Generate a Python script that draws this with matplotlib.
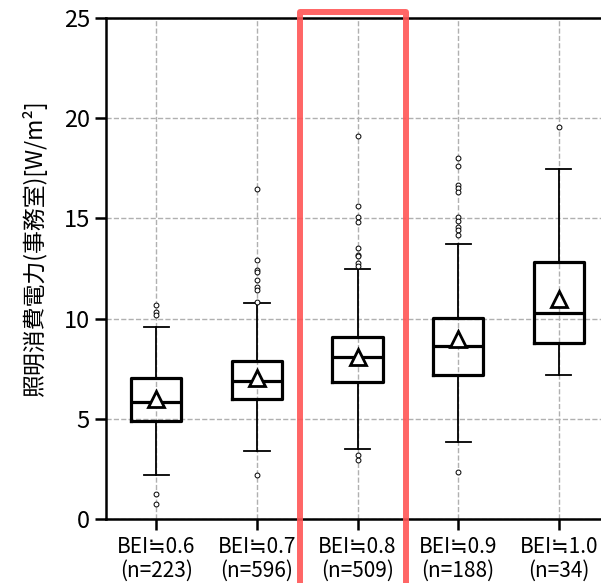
import numpy as np
import matplotlib
matplotlib.use("Agg")
import matplotlib.pyplot as plt
from matplotlib.patches import Rectangle

plt.rcParams['font.family'] = ['Noto Sans CJK JP', 'DejaVu Sans']

labels = ["BEI≒0.6\n(n=223)", "BEI≒0.7\n(n=596)", "BEI≒0.8\n(n=509)",
          "BEI≒0.9\n(n=188)", "BEI≒1.0\n(n=34)"]
med = [5.85, 6.9, 8.07, 8.65, 10.3]
q1 = [4.91, 6.0, 6.82, 7.19, 8.77]
q3 = [7.02, 7.9, 9.1, 10.01, 12.84]
whislo = [2.2, 3.39, 3.49, 3.86, 7.19]
whishi = [9.6, 10.8, 12.47, 13.72, 17.45]
means = [6.0, 7.03, 8.1, 9.0, 11.0]
fliers = [
    [10.7, 10.35, 10.2, 1.23, 0.73],
    [16.47, 12.9, 12.42, 12.32, 11.93, 11.56, 11.43, 10.85, 2.2],
    [19.11, 15.63, 15.05, 14.8, 13.5, 13.17, 13.1, 12.76, 12.64, 3.19, 2.94],
    [18.0, 17.63, 16.67, 16.5, 16.33, 15.08, 14.89, 14.59, 14.42, 14.17, 2.35],
    [19.58],
]

stats = []
for i in range(len(labels)):
    stats.append(dict(med=med[i], q1=q1[i], q3=q3[i], whislo=whislo[i],
                      whishi=whishi[i], mean=means[i], fliers=fliers[i],
                      label=labels[i]))

fig = plt.figure(figsize=(6.01, 5.83), dpi=100)
ax = fig.add_axes([0.1764, 0.1098, 0.837, 0.8593])

ax.bxp(stats, widths=0.5, showmeans=True,
       boxprops=dict(color='black', linewidth=2.3),
       medianprops=dict(color='black', linewidth=2.3),
       whiskerprops=dict(color='black', linewidth=1.3),
       capprops=dict(color='black', linewidth=1.3),
       meanprops=dict(marker='^', markerfacecolor='white', markeredgecolor='black',
                      markersize=11, markeredgewidth=2),
       flierprops=dict(marker='o', markerfacecolor='white', markeredgecolor='black',
                       markersize=3.5, markeredgewidth=0.7))

ax.set_xlim(0.5, 5.5)
ax.set_ylim(0, 25)
ax.set_yticks([0, 5, 10, 15, 20, 25])
ax.grid(True, linestyle='--', color='#b0b0b0', linewidth=1)
ax.set_axisbelow(True)
for s in ax.spines.values():
    s.set_linewidth(1.8)
ax.spines['right'].set_visible(False)
ax.tick_params(axis='y', labelsize=17, length=8, width=1.8)
ax.tick_params(axis='x', labelsize=15, length=8, width=1.8, pad=4)
for t in ax.get_xticklabels():
    t.set_linespacing(1.15)
ax.set_ylabel("照明消費電力(事務室)[W/m²]", fontsize=16.5)
ax.yaxis.set_label_coords(-0.117, 0.54)

rect = Rectangle((2.433, -5), 3.478 - 2.433, 25.3 + 5, fill=False,
                 edgecolor='#ff5555', linewidth=4.3, alpha=0.9,
                 joinstyle='round', clip_on=False, zorder=10)
ax.add_patch(rect)

fig.savefig("out.png", dpi=100)
